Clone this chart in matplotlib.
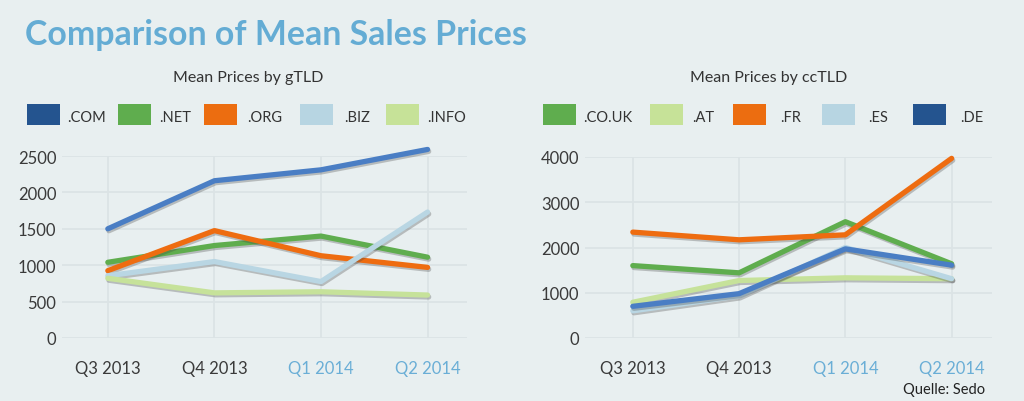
import matplotlib.pyplot as plt
import matplotlib.patheffects as pe
from matplotlib.patches import Rectangle

quarters = ["Q3 2013", "Q4 2013", "Q1 2014", "Q2 2014"]
quarter_colors = ["#3a3a3a", "#3a3a3a", "#6aaed6", "#6aaed6"]

gtld_names = [".COM", ".NET", ".ORG", ".BIZ", ".INFO"]
gtld_com = [1500, 2160, 2310, 2590]
gtld_net = [1040, 1270, 1400, 1110]
gtld_org = [925, 1475, 1130, 970]
gtld_biz = [855, 1050, 775, 1730]
gtld_info = [820, 620, 635, 590]
gtld_values = [gtld_com, gtld_net, gtld_org, gtld_biz, gtld_info]

cctld_names = [".CO.UK", ".AT", ".FR", ".ES", ".DE"]
cctld_couk = [1600, 1440, 2570, 1640]
cctld_at = [790, 1270, 1330, 1310]
cctld_fr = [2340, 2170, 2280, 3970]
cctld_es = [600, 930, 2000, 1310]
cctld_de = [700, 980, 1970, 1610]
cctld_values = [cctld_couk, cctld_at, cctld_fr, cctld_es, cctld_de]

# line colour, legend patch colour
BLUE = ("#4a7ec4", "#24548f")
GREEN = ("#5fad4e", "#5fad4e")
ORANGE = ("#ee6c10", "#ec6d10")
LBLUE = ("#b9d6e3", "#b7d5e2")
LGREEN = ("#c6e29a", "#c6e298")
gtld_colors = [BLUE, GREEN, ORANGE, LBLUE, LGREEN]
cctld_colors = [GREEN, LGREEN, ORANGE, LBLUE, BLUE]

BG = "#e8eff0"
FONT = ["Lato", "DejaVu Sans"]
plt.rcParams["font.family"] = FONT

fig = plt.figure(figsize=(10.24, 4.02), dpi=100, facecolor=BG)
W, H = 1024, 402


def px(x, y):
    return x / W, 1 - y / H


def draw_panel(rect, values, colors, ymax, ystep, xlim):
    ax = fig.add_axes(rect)
    ax.set_facecolor("none")
    x = range(len(quarters))
    shadow = [pe.SimpleLineShadow(offset=(0.8, -1.4), shadow_color="#444444", alpha=0.3),
              pe.Normal()]
    for vals, col in zip(values, colors):
        ax.plot(x, vals, color=col[0], lw=3.8, solid_capstyle="round",
                solid_joinstyle="round", path_effects=shadow, clip_on=False)
    ax.set_xlim(*xlim)
    ax.set_ylim(0, ymax)
    ax.set_yticks(range(0, ymax + 1, ystep))
    ax.set_xticks(list(x))
    ax.set_xticklabels(quarters)
    ax.tick_params(axis="both", length=0, labelsize=12, colors="#3a3a3a")
    ax.tick_params(axis="x", pad=16)
    ax.tick_params(axis="y", pad=4)
    for lab, c in zip(ax.get_xticklabels(), quarter_colors):
        lab.set_color(c)
    ax.grid(True, color="#dbe3e5", lw=1.3)
    ax.set_axisbelow(True)
    for s in ax.spines.values():
        s.set_visible(False)
    return ax


l, t = px(62, 157)
_, b = px(62, 339)
draw_panel([l, b, 405 / W, t - b], gtld_values, gtld_colors, 2500, 500, (-0.43, 3.37))
l, t = px(585, 158)
_, b = px(585, 339)
draw_panel([l, b, 407 / W, t - b], cctld_values, cctld_colors, 4000, 1000, (-0.45, 3.38))

# titles
fig.text(*px(25, 35), "Comparison of Mean Sales Prices", fontsize=24.4, fontweight="bold",
         color="#64acd4", va="center", ha="left")
fig.text(*px(248, 78), "Mean Prices by gTLD", fontsize=11.5, color="#333333",
         ha="center", va="center")
fig.text(*px(769, 78), "Mean Prices by ccTLD", fontsize=11.5, color="#333333",
         ha="center", va="center")
fig.text(*px(985, 390), "Quelle: Sedo", fontsize=10.5, color="#222222",
         ha="right", va="center")

# legends
gtld_patch_x = [27, 118, 204, 300, 386]
gtld_label_x = [67, 159, 247, 344, 427]
cctld_patch_x = [543, 650, 733, 822, 913]
cctld_label_x = [583, 692, 780, 868, 960]
for names, cols, pxs, lxs in [(gtld_names, gtld_colors, gtld_patch_x, gtld_label_x),
                              (cctld_names, cctld_colors, cctld_patch_x, cctld_label_x)]:
    for name, col, p, lx in zip(names, cols, pxs, lxs):
        x0, y0 = px(p, 126)
        fig.add_artist(Rectangle((x0, y0), 33 / W, 21 / H, transform=fig.transFigure,
                                 facecolor=col[1], edgecolor="none"))
        fig.text(*px(lx, 118), name, fontsize=10.5, color="#333333", ha="left", va="center")

fig.savefig("out.png", dpi=100, facecolor=BG)
